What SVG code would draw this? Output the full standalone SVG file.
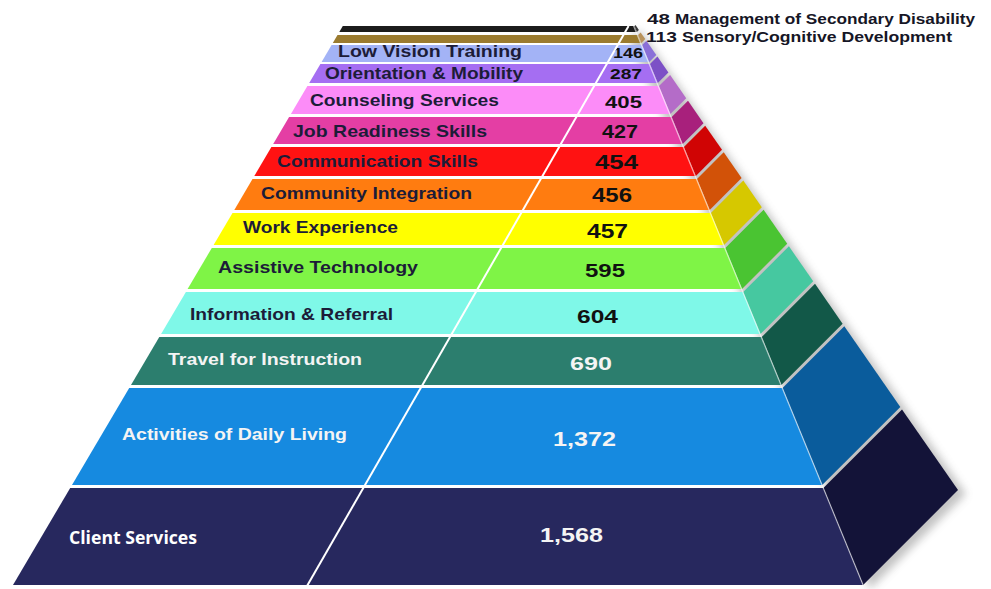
<svg xmlns="http://www.w3.org/2000/svg" width="991" height="589" viewBox="0 0 991 589">
<defs>
<style>
.lbl{font-family:"Liberation Sans",Arial,sans-serif;font-weight:bold;font-size:17px;fill:#1c1c38}
.num{font-family:"Liberation Sans",Arial,sans-serif;font-weight:bold;fill:#111}
.lbl.w,.num.w{fill:#f4f4f4}
.top{font-family:"Liberation Sans",Arial,sans-serif;font-weight:bold;font-size:15px;fill:#161626}
.cs{font-family:"Open Sans","Noto Sans",sans-serif;font-weight:bold;font-size:18px;fill:#ffffff}
</style>
<filter id="blur" x="-20%" y="-20%" width="140%" height="140%"><feGaussianBlur stdDeviation="4"/></filter>
</defs>
<rect width="991" height="589" fill="#ffffff"/>
<polygon points="640,30 966,494 870,589 630,40" fill="#7a7a7a" opacity="0.45" filter="url(#blur)"/>

<g id="band-management">
<polygon points="342.8,26 634.5,26 636.9,32 339.3,32" fill="#1c1c1c"/>
<polygon points="634.5,26 635.5,25 638.9,30 636.9,32" fill="#3a3a3a"/>
<text class="top" x="647" y="24" textLength="23" lengthAdjust="spacingAndGlyphs">48</text>
<text class="top" x="675" y="24" textLength="300" lengthAdjust="spacingAndGlyphs">Management of Secondary Disability</text>
</g>
<g id="band-sensory">
<polygon points="337.5,35 638.1,35 641.4,43 332.8,43" fill="#9b7b2f"/>
<polygon points="638.1,35 640.6,32.5 645.3,39.1 641.4,43" fill="#b8925a"/>
<text class="top" x="646" y="42" textLength="31" lengthAdjust="spacingAndGlyphs">113</text>
<text class="top" x="682" y="42" textLength="270" lengthAdjust="spacingAndGlyphs">Sensory/Cognitive Development</text>
</g>
<g id="band-low-vision">
<polygon points="331.6,45 642.2,45 649.2,62 321.6,62" fill="#a3b3f6"/>
<polygon points="642.2,45 646.4,40.8 656.3,54.9 649.2,62" fill="#8a70d8"/>
<text class="lbl" x="338" y="57" textLength="184" lengthAdjust="spacingAndGlyphs">Low Vision Training</text>
<text class="num" x="613" y="58" font-size="14" textLength="30" lengthAdjust="spacingAndGlyphs">146</text>
</g>
<g id="band-orientation">
<polygon points="320.4,64 650,64 657.8,83 309.2,83" fill="#a56ef2"/>
<polygon points="650,64 657.4,56.6 668.4,72.4 657.8,83" fill="#7c50c6"/>
<text class="lbl" x="325" y="79" textLength="198" lengthAdjust="spacingAndGlyphs">Orientation &amp; Mobility</text>
<text class="num" x="610" y="79" font-size="14" textLength="32" lengthAdjust="spacingAndGlyphs">287</text>
</g>
<g id="band-counseling">
<polygon points="307.4,86 659,86 670.4,114 290.9,114" fill="#fc8cf8"/>
<polygon points="659,86 670.1,74.9 686.2,98.2 670.4,114" fill="#b46cc8"/>
<text class="lbl" x="310" y="106" textLength="189" lengthAdjust="spacingAndGlyphs">Counseling Services</text>
<text class="num" x="605" y="108" font-size="17" textLength="37" lengthAdjust="spacingAndGlyphs">405</text>
</g>
<g id="band-job-readiness">
<polygon points="289.1,117 671.7,117 682.7,144 273.2,144" fill="#e43ea4"/>
<polygon points="671.7,117 688,100.7 703.5,123.2 682.7,144" fill="#a8207c"/>
<text class="lbl" x="293" y="137" textLength="194" lengthAdjust="spacingAndGlyphs">Job Readiness Skills</text>
<text class="num" x="602" y="138" font-size="18" textLength="36" lengthAdjust="spacingAndGlyphs">427</text>
</g>
<g id="band-communication">
<polygon points="271.4,147 683.9,147 695.8,176 254.3,176" fill="#ff1212"/>
<polygon points="683.9,147 705.2,125.7 722,149.8 695.8,176" fill="#d00404"/>
<text class="lbl" x="277" y="167" textLength="201" lengthAdjust="spacingAndGlyphs">Communication Skills</text>
<text class="num" x="595" y="169" font-size="21" textLength="43" lengthAdjust="spacingAndGlyphs">454</text>
</g>
<g id="band-community">
<polygon points="252.5,179 697,179 709.7,210 234.3,210" fill="#ff7c10"/>
<polygon points="697,179 723.7,152.3 741.6,178.1 709.7,210" fill="#d25208"/>
<text class="lbl" x="261" y="199" textLength="211" lengthAdjust="spacingAndGlyphs">Community Integration</text>
<text class="num" x="592" y="202" font-size="21" textLength="40" lengthAdjust="spacingAndGlyphs">456</text>
</g>
<g id="band-work">
<polygon points="232.5,213 710.9,213 724,245 213.6,245" fill="#ffff00"/>
<polygon points="710.9,213 743.3,180.6 761.8,207.2 724,245" fill="#d6c800"/>
<text class="lbl" x="243" y="233" textLength="155" lengthAdjust="spacingAndGlyphs">Work Experience</text>
<text class="num" x="587" y="238" font-size="21" textLength="41" lengthAdjust="spacingAndGlyphs">457</text>
</g>
<g id="band-assistive">
<polygon points="211.8,248 725.3,248 742,289 187.6,289" fill="#7ff446"/>
<polygon points="725.3,248 763.6,209.7 787.2,243.8 742,289" fill="#4ac432"/>
<text class="lbl" x="218" y="273" textLength="200" lengthAdjust="spacingAndGlyphs">Assistive Technology</text>
<text class="num" x="585" y="277" font-size="18" textLength="40" lengthAdjust="spacingAndGlyphs">595</text>
</g>
<g id="band-information">
<polygon points="185.9,292 743.2,292 760.4,334 161.1,334" fill="#7ff8e8"/>
<polygon points="743.2,292 788.9,246.3 813.2,281.2 760.4,334" fill="#46c8a0"/>
<text class="lbl" x="190" y="320" textLength="203" lengthAdjust="spacingAndGlyphs">Information &amp; Referral</text>
<text class="num" x="577" y="323" font-size="18" textLength="41" lengthAdjust="spacingAndGlyphs">604</text>
</g>
<g id="band-travel">
<polygon points="159.3,337 761.7,337 781.3,385 131,385" fill="#2c7e6e"/>
<polygon points="761.7,337 815,283.7 842.6,323.7 781.3,385" fill="#125848"/>
<text class="lbl w" x="168" y="365" textLength="194" lengthAdjust="spacingAndGlyphs">Travel for Instruction</text>
<text class="num w" x="570" y="370" font-size="18" textLength="42" lengthAdjust="spacingAndGlyphs">690</text>
</g>
<g id="band-daily-living">
<polygon points="129.2,388 782.5,388 822.2,485 72,485" fill="#168ae0"/>
<polygon points="782.5,388 844.3,326.2 900.3,406.9 822.2,485" fill="#0a5c9c"/>
<text class="lbl w" x="122" y="440" textLength="225" lengthAdjust="spacingAndGlyphs">Activities of Daily Living</text>
<text class="num w" x="553" y="446" font-size="21" textLength="63" lengthAdjust="spacingAndGlyphs">1,372</text>
</g>
<g id="band-client-services">
<polygon points="70.2,488 823.4,488 863.1,585 13,585" fill="#27285e"/>
<polygon points="823.4,488 902,409.4 958,490.1 863.1,585" fill="#131338"/>
<text class="cs" x="69" y="544" textLength="128" lengthAdjust="spacingAndGlyphs">Client Services</text>
<text class="num w" x="540" y="542" font-size="21" textLength="63" lengthAdjust="spacingAndGlyphs">1,568</text>
</g>

<g id="connectors">
<line x1="307" y1="586" x2="628.6" y2="26" stroke="#ffffff" stroke-width="2"/>
<line x1="632" y1="22" x2="863.1" y2="585" stroke="#ffffff" stroke-width="1.2" opacity="0.6"/>
</g>
</svg>
